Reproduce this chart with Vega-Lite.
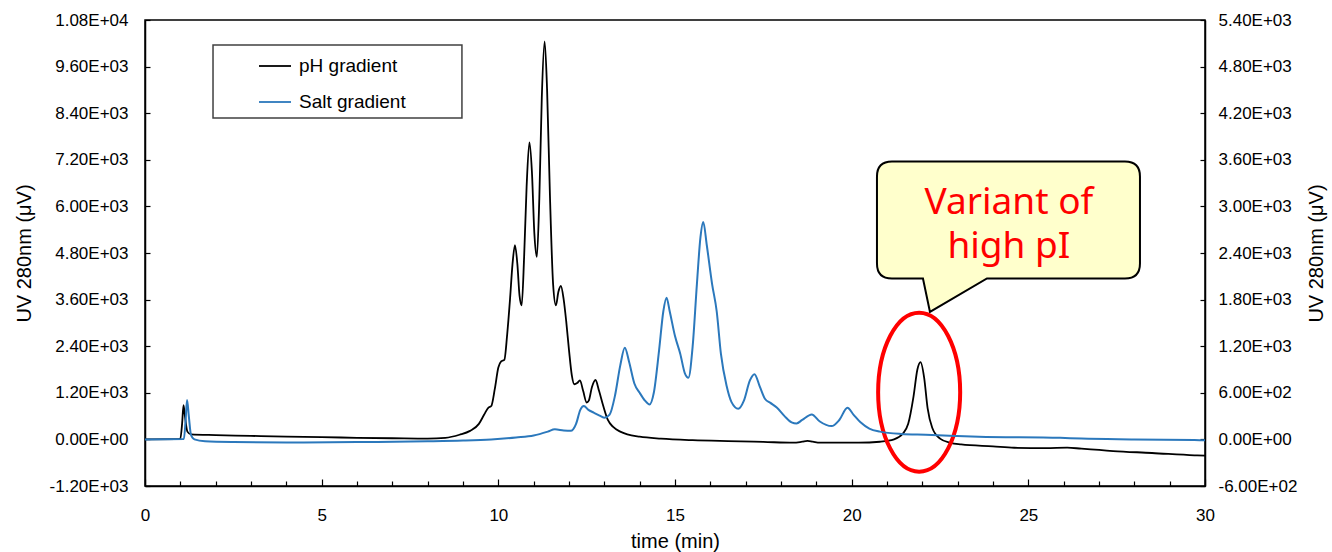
{
  "$schema": "https://vega.github.io/schema/vega-lite/v6.json",
  "width": 1060,
  "height": 466,
  "autosize": {"type": "none"},
  "padding": {"left": 145, "top": 20, "right": 127, "bottom": 66},
  "background": "white",
  "config": {
    "view": {"stroke": "#000", "strokeWidth": 1.5},
    "axis": {"domainColor": "#000", "domainWidth": 1.5, "tickColor": "#000", "tickWidth": 1.2, "labelColor": "#000", "labelFont": "Liberation Sans", "labelFontSize": 17, "titleFont": "Liberation Sans", "titleFontSize": 20, "titleFontWeight": "normal", "titleColor": "#000", "grid": false}
  },
  "datasets": {
    "ph": [
      {"t": 0, "v": 0}, {"t": 0.9, "v": 5}, {"t": 1.0, "v": 20}, {"t": 1.05, "v": 400}, {"t": 1.09, "v": 880}, {"t": 1.13, "v": 600}, {"t": 1.2, "v": 200}, {"t": 1.3, "v": 130}, {"t": 2, "v": 110}, {"t": 3, "v": 90}, {"t": 4, "v": 70}, {"t": 5, "v": 60}, {"t": 6, "v": 40}, {"t": 7, "v": 30}, {"t": 8, "v": 20},
      {"t": 8.5, "v": 40}, {"t": 8.9, "v": 120}, {"t": 9.2, "v": 220}, {"t": 9.45, "v": 400}, {"t": 9.6, "v": 640}, {"t": 9.72, "v": 820}, {"t": 9.8, "v": 860}, {"t": 9.9, "v": 1300}, {"t": 10.0, "v": 1850}, {"t": 10.08, "v": 2010}, {"t": 10.17, "v": 2050}, {"t": 10.25, "v": 2700}, {"t": 10.33, "v": 3600}, {"t": 10.4, "v": 4500}, {"t": 10.47, "v": 5000}, {"t": 10.54, "v": 4500}, {"t": 10.6, "v": 3700}, {"t": 10.66, "v": 3450}, {"t": 10.73, "v": 4700}, {"t": 10.8, "v": 6500}, {"t": 10.88, "v": 7650}, {"t": 10.95, "v": 6900}, {"t": 11.02, "v": 5300}, {"t": 11.09, "v": 4700}, {"t": 11.16, "v": 6200}, {"t": 11.23, "v": 8800}, {"t": 11.31, "v": 10250}, {"t": 11.38, "v": 9000}, {"t": 11.46, "v": 6300}, {"t": 11.55, "v": 4000}, {"t": 11.63, "v": 3450}, {"t": 11.7, "v": 3800}, {"t": 11.77, "v": 3950}, {"t": 11.85, "v": 3600}, {"t": 11.92, "v": 3050}, {"t": 12.0, "v": 2300}, {"t": 12.08, "v": 1650}, {"t": 12.15, "v": 1420}, {"t": 12.23, "v": 1450}, {"t": 12.31, "v": 1520}, {"t": 12.4, "v": 1250}, {"t": 12.5, "v": 950}, {"t": 12.56, "v": 1000}, {"t": 12.65, "v": 1350}, {"t": 12.75, "v": 1530}, {"t": 12.85, "v": 1250}, {"t": 12.97, "v": 860}, {"t": 13.1, "v": 500}, {"t": 13.25, "v": 320}, {"t": 13.45, "v": 200}, {"t": 13.65, "v": 130}, {"t": 14.0, "v": 70}, {"t": 14.6, "v": 20}, {"t": 15.5, "v": -20}, {"t": 16.5, "v": -45}, {"t": 17.5, "v": -65}, {"t": 18.35, "v": -85}, {"t": 18.6, "v": -60}, {"t": 18.75, "v": -40}, {"t": 18.9, "v": -60}, {"t": 19.1, "v": -85}, {"t": 20.2, "v": -85}, {"t": 20.8, "v": -60}, {"t": 21.2, "v": 0}, {"t": 21.45, "v": 150}, {"t": 21.6, "v": 400}, {"t": 21.75, "v": 1100}, {"t": 21.86, "v": 1800}, {"t": 21.95, "v": 1990}, {"t": 22.05, "v": 1600}, {"t": 22.15, "v": 800}, {"t": 22.28, "v": 300}, {"t": 22.5, "v": 20}, {"t": 22.8, "v": -90}, {"t": 23.1, "v": -130}, {"t": 24.0, "v": -180}, {"t": 24.6, "v": -215}, {"t": 25.5, "v": -225}, {"t": 26.1, "v": -210}, {"t": 26.5, "v": -240}, {"t": 27.4, "v": -300}, {"t": 28.5, "v": -350}, {"t": 29.7, "v": -410}, {"t": 30, "v": -420}
    ],
    "salt": [
      {"t": 0, "v": 0}, {"t": 1.1, "v": 5}, {"t": 1.15, "v": 250}, {"t": 1.19, "v": 506}, {"t": 1.24, "v": 300}, {"t": 1.3, "v": 60}, {"t": 1.4, "v": 0}, {"t": 1.7, "v": -25}, {"t": 2.5, "v": -35}, {"t": 4, "v": -40}, {"t": 6, "v": -35}, {"t": 8, "v": -25}, {"t": 9, "v": -15}, {"t": 9.8, "v": 0}, {"t": 10.5, "v": 25}, {"t": 11.0, "v": 50}, {"t": 11.4, "v": 100}, {"t": 11.6, "v": 130}, {"t": 11.85, "v": 115}, {"t": 12.05, "v": 110}, {"t": 12.2, "v": 200}, {"t": 12.32, "v": 380}, {"t": 12.42, "v": 430}, {"t": 12.55, "v": 380}, {"t": 12.7, "v": 345}, {"t": 12.85, "v": 310}, {"t": 13.0, "v": 280}, {"t": 13.15, "v": 320}, {"t": 13.3, "v": 560}, {"t": 13.45, "v": 950}, {"t": 13.58, "v": 1180}, {"t": 13.7, "v": 1000}, {"t": 13.85, "v": 720}, {"t": 14.0, "v": 600}, {"t": 14.15, "v": 500}, {"t": 14.28, "v": 450}, {"t": 14.4, "v": 600}, {"t": 14.55, "v": 1150}, {"t": 14.67, "v": 1650}, {"t": 14.76, "v": 1824}, {"t": 14.85, "v": 1650}, {"t": 15.0, "v": 1330}, {"t": 15.15, "v": 1100}, {"t": 15.28, "v": 850}, {"t": 15.38, "v": 794}, {"t": 15.5, "v": 1200}, {"t": 15.62, "v": 2000}, {"t": 15.72, "v": 2600}, {"t": 15.8, "v": 2800}, {"t": 15.9, "v": 2500}, {"t": 16.05, "v": 2000}, {"t": 16.18, "v": 1650}, {"t": 16.3, "v": 1100}, {"t": 16.46, "v": 690}, {"t": 16.6, "v": 480}, {"t": 16.79, "v": 395}, {"t": 16.95, "v": 500}, {"t": 17.12, "v": 760}, {"t": 17.25, "v": 840}, {"t": 17.4, "v": 680}, {"t": 17.55, "v": 520}, {"t": 17.7, "v": 470}, {"t": 17.88, "v": 410}, {"t": 18.1, "v": 300}, {"t": 18.3, "v": 220}, {"t": 18.44, "v": 206}, {"t": 18.6, "v": 250}, {"t": 18.87, "v": 322}, {"t": 19.1, "v": 230}, {"t": 19.43, "v": 171}, {"t": 19.65, "v": 250}, {"t": 19.88, "v": 408}, {"t": 20.05, "v": 320}, {"t": 20.25, "v": 220}, {"t": 20.5, "v": 140}, {"t": 20.8, "v": 100}, {"t": 21.4, "v": 70}, {"t": 22.1, "v": 60}, {"t": 23.6, "v": 35}, {"t": 25.9, "v": 20}, {"t": 26.5, "v": 10}, {"t": 28, "v": 0}, {"t": 29.7, "v": -9}, {"t": 30, "v": -10}
    ]
  },
  "layer": [
    {
      "layer": [
        {
          "data": {"name": "ph"},
          "mark": {"type": "line", "interpolate": "monotone", "strokeWidth": 1.8},
          "encoding": {
            "x": {"field": "t", "type": "quantitative", "scale": {"domain": [0, 30], "nice": false, "zero": false},
              "axis": {"orient": "bottom", "title": "time (min)", "values": [0,1,2,3,4,5,6,7,8,9,10,11,12,13,14,15,16,17,18,19,20,21,22,23,24,25,26,27,28,29,30], "labelExpr": "datum.value % 5 === 0 ? datum.label : ''", "labelOverlap": false, "labelFlush": false, "tickSize": {"condition": {"test": "datum.value % 5 === 0", "value": -7}, "value": -5}, "labelPadding": 28, "titlePadding": 6}},
            "y": {"field": "v", "type": "quantitative", "scale": {"domain": [-1200, 10800], "nice": false, "zero": false},
              "axis": {"orient": "left", "title": "UV 280nm (μV)", "values": [-1200,0,1200,2400,3600,4800,6000,7200,8400,9600,10800], "labelExpr": "replace(replace(replace(upper(format(datum.value, '.2e')), 'E+', 'E+0'), 'E-', 'E-0'), '−', '-')", "tickSize": -5, "labelPadding": 22, "titlePadding": 15}},
            "color": {"datum": "pH gradient", "type": "nominal", "scale": {"domain": ["pH gradient", "Salt gradient"], "range": ["#000000", "#2B78BC"]},
              "legend": {"title": null, "orient": "none", "legendX": 113, "legendY": 29, "padding": 0, "symbolType": "stroke", "symbolSize": 1024, "symbolStrokeWidth": 1.8, "labelFont": "Liberation Sans", "labelFontSize": 19, "labelColor": "#000", "labelOffset": 7, "rowPadding": 9}}
          }
        },
        {
          "data": {"values": [{}]},
          "mark": {"type": "rect", "fill": "white", "stroke": "#404040", "strokeWidth": 1.5},
          "encoding": {
            "x": {"datum": 1.925, "type": "quantitative",
              "axis": {"orient": "bottom", "title": "time (min)", "values": [0,1,2,3,4,5,6,7,8,9,10,11,12,13,14,15,16,17,18,19,20,21,22,23,24,25,26,27,28,29,30], "labelExpr": "datum.value % 5 === 0 ? datum.label : ''", "labelOverlap": false, "labelFlush": false, "tickSize": {"condition": {"test": "datum.value % 5 === 0", "value": -7}, "value": -5}, "labelPadding": 28, "titlePadding": 6}},
            "x2": {"datum": 8.97},
            "y": {"datum": 10156, "type": "quantitative",
              "axis": {"orient": "left", "title": "UV 280nm (μV)", "values": [-1200,0,1200,2400,3600,4800,6000,7200,8400,9600,10800], "labelExpr": "replace(replace(replace(upper(format(datum.value, '.2e')), 'E+', 'E+0'), 'E-', 'E-0'), '−', '-')", "tickSize": -5, "labelPadding": 22, "titlePadding": 15}},
            "y2": {"datum": 8276}
          }
        },
        {
          "data": {"values": [{}]},
          "mark": {"type": "point", "filled": true, "opacity": 1, "fill": "#FFFFCC", "stroke": "#000000", "strokeWidth": 2, "size": 40000,
            "shape": "M -1.187 -0.76 L 1.143 -0.76 Q 1.293 -0.76 1.293 -0.61 L 1.293 0.26 Q 1.293 0.41 1.143 0.41 L -0.237 0.41 L -0.807 0.745 L -0.877 0.41 L -1.187 0.41 Q -1.337 0.41 -1.337 0.26 L -1.337 -0.61 Q -1.337 -0.76 -1.187 -0.76 Z"},
          "encoding": {
            "x": {"datum": 24.5, "type": "quantitative",
              "axis": {"orient": "bottom", "title": "time (min)", "values": [0,1,2,3,4,5,6,7,8,9,10,11,12,13,14,15,16,17,18,19,20,21,22,23,24,25,26,27,28,29,30], "labelExpr": "datum.value % 5 === 0 ? datum.label : ''", "labelOverlap": false, "labelFlush": false, "tickSize": {"condition": {"test": "datum.value % 5 === 0", "value": -7}, "value": -5}, "labelPadding": 28, "titlePadding": 6}},
            "y": {"datum": 5200, "type": "quantitative",
              "axis": {"orient": "left", "title": "UV 280nm (μV)", "values": [-1200,0,1200,2400,3600,4800,6000,7200,8400,9600,10800], "labelExpr": "replace(replace(replace(upper(format(datum.value, '.2e')), 'E+', 'E+0'), 'E-', 'E-0'), '−', '-')", "tickSize": -5, "labelPadding": 22, "titlePadding": 15}}
          }
        },
        {
          "data": {"values": [{}]},
          "mark": {"type": "point", "filled": false, "opacity": 1, "stroke": "#FF0000", "strokeWidth": 4, "size": 25281,
            "shape": "M 0 -1 C 0.285 -1 0.516 -0.5523 0.516 0 C 0.516 0.5523 0.285 1 0 1 C -0.285 1 -0.516 0.5523 -0.516 0 C -0.516 -0.5523 -0.285 -1 0 -1 Z"},
          "encoding": {
            "x": {"datum": 21.91, "type": "quantitative",
              "axis": {"orient": "bottom", "title": "time (min)", "values": [0,1,2,3,4,5,6,7,8,9,10,11,12,13,14,15,16,17,18,19,20,21,22,23,24,25,26,27,28,29,30], "labelExpr": "datum.value % 5 === 0 ? datum.label : ''", "labelOverlap": false, "labelFlush": false, "tickSize": {"condition": {"test": "datum.value % 5 === 0", "value": -7}, "value": -5}, "labelPadding": 28, "titlePadding": 6}},
            "y": {"datum": 1215, "type": "quantitative",
              "axis": {"orient": "left", "title": "UV 280nm (μV)", "values": [-1200,0,1200,2400,3600,4800,6000,7200,8400,9600,10800], "labelExpr": "replace(replace(replace(upper(format(datum.value, '.2e')), 'E+', 'E+0'), 'E-', 'E-0'), '−', '-')", "tickSize": -5, "labelPadding": 22, "titlePadding": 15}}
          }
        },
        {
          "data": {"values": [{}]},
          "mark": {"type": "text", "text": ["Variant of", "high pI"], "font": "Noto Sans", "fontSize": 37, "lineHeight": 44, "color": "#FF0000", "align": "center", "baseline": "alphabetic"},
          "encoding": {
            "x": {"datum": 24.45, "type": "quantitative",
              "axis": {"orient": "bottom", "title": "time (min)", "values": [0,1,2,3,4,5,6,7,8,9,10,11,12,13,14,15,16,17,18,19,20,21,22,23,24,25,26,27,28,29,30], "labelExpr": "datum.value % 5 === 0 ? datum.label : ''", "labelOverlap": false, "labelFlush": false, "tickSize": {"condition": {"test": "datum.value % 5 === 0", "value": -7}, "value": -5}, "labelPadding": 28, "titlePadding": 6}},
            "y": {"datum": 5804, "type": "quantitative",
              "axis": {"orient": "left", "title": "UV 280nm (μV)", "values": [-1200,0,1200,2400,3600,4800,6000,7200,8400,9600,10800], "labelExpr": "replace(replace(replace(upper(format(datum.value, '.2e')), 'E+', 'E+0'), 'E-', 'E-0'), '−', '-')", "tickSize": -5, "labelPadding": 22, "titlePadding": 15}}
          }
        }
      ]
    },
    {
      "data": {"name": "salt"},
      "mark": {"type": "line", "interpolate": "monotone", "strokeWidth": 2},
      "encoding": {
        "x": {"field": "t", "type": "quantitative",
          "axis": {"orient": "bottom", "title": "time (min)", "values": [0,1,2,3,4,5,6,7,8,9,10,11,12,13,14,15,16,17,18,19,20,21,22,23,24,25,26,27,28,29,30], "labelExpr": "datum.value % 5 === 0 ? datum.label : ''", "labelOverlap": false, "labelFlush": false, "tickSize": {"condition": {"test": "datum.value % 5 === 0", "value": -7}, "value": -5}, "labelPadding": 28, "titlePadding": 6}},
        "y": {"field": "v", "type": "quantitative", "scale": {"domain": [-600, 5400], "nice": false, "zero": false},
          "axis": {"orient": "right", "title": "UV 280nm (μV)", "values": [-600,0,600,1200,1800,2400,3000,3600,4200,4800,5400], "labelExpr": "replace(replace(replace(upper(format(datum.value, '.2e')), 'E+', 'E+0'), 'E-', 'E-0'), '−', '-')", "tickSize": -5, "labelPadding": 18, "titlePadding": 10, "titleAngle": 270, "titleBaseline": "top"}},
        "color": {"datum": "Salt gradient", "type": "nominal", "scale": {"domain": ["pH gradient", "Salt gradient"], "range": ["#000000", "#2B78BC"]},
          "legend": {"title": null, "orient": "none", "legendX": 113, "legendY": 29, "padding": 0, "symbolType": "stroke", "symbolSize": 1024, "symbolStrokeWidth": 1.8, "labelFont": "Liberation Sans", "labelFontSize": 19, "labelColor": "#000", "labelOffset": 7, "rowPadding": 9}}
      }
    }
  ],
  "resolve": {"scale": {"y": "independent"}}
}
